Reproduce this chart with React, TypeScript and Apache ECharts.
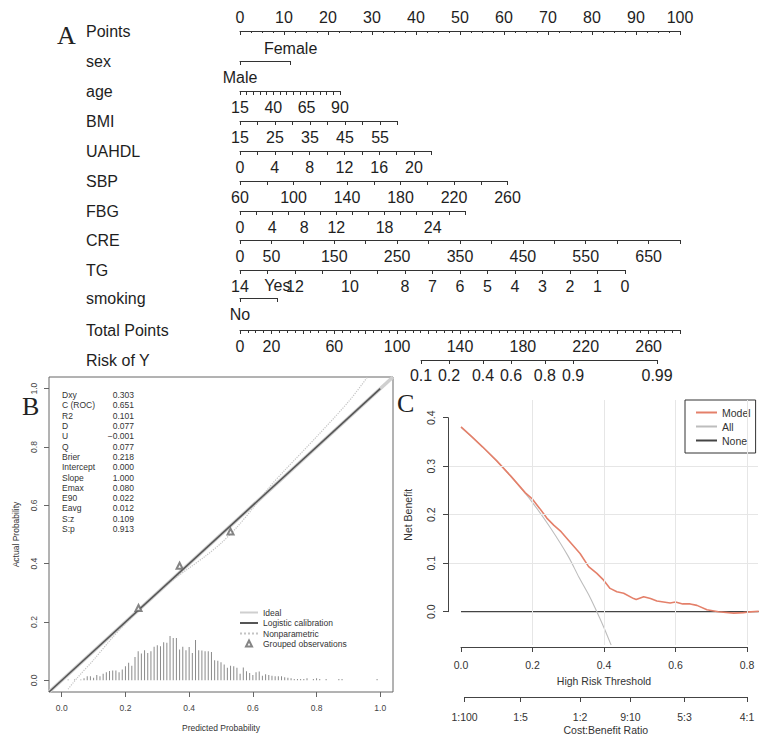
import React, { useEffect, useRef } from "react";
import * as echarts from "echarts";

const FONT = "'Liberation Sans', Arial, Helvetica, sans-serif";
const SERIF = "'Liberation Serif', 'Times New Roman', serif";

// ================= Panel A : nomogram =================
const nomoRowNames = ["Points", "sex", "age", "BMI", "UAHDL", "SBP", "FBG", "CRE", "TG", "smoking", "Total Points", "Risk of Y"];
const pointsRange = [0, 100];
const pointsLabelStep = 10;

const sexLevels = ["Male", "Female"];
const sexPoints = [0, 11.5];

const ageTicks = [15, 20, 25, 30, 35, 40, 45, 50, 55, 60, 65, 70, 75, 80, 85, 90];
const ageLabels = [15, 40, 65, 90];
const agePointsMax = 22.7;

const bmiTicks = [15, 20, 25, 30, 35, 40, 45, 50, 55, 60];
const bmiLabels = [15, 25, 35, 45, 55];
const bmiPointsMax = 35.8;

const uahdlTicks = [0, 2, 4, 6, 8, 10, 12, 14, 16, 18, 20, 22];
const uahdlLabels = [0, 4, 8, 12, 16, 20];
const uahdlPointsMax = 43.5;

const sbpTicks = [60, 80, 100, 120, 140, 160, 180, 200, 220, 240, 260];
const sbpLabels = [60, 100, 140, 180, 220, 260];
const sbpPointsMax = 60.8;

const fbgTicks = [0, 2, 4, 6, 8, 10, 12, 14, 16, 18, 20, 22, 24, 26, 28];
const fbgLabels = [0, 4, 8, 12, 18, 24];
const fbgPointsMax = 51.1;

const creTicks = [0, 50, 100, 150, 200, 250, 300, 350, 400, 450, 500, 550, 600, 650, 700];
const creLabels = [0, 50, 150, 250, 350, 450, 550, 650];
const crePointsMax = 100;

const tgTicks = [0, 1, 2, 3, 4, 5, 6, 7, 8, 9, 10, 11, 12, 13, 14];
const tgLabels = [14, 12, 10, 8, 7, 6, 5, 4, 3, 2, 1, 0];
const tgPointsMax = 87.5; // reversed scale: TG = 0 scores most

const smokingLevels = ["No", "Yes"];
const smokingPoints = [0, 8.5];

const totalPointsRange = [0, 280];
const totalPointsLabels = [0, 20, 60, 100, 140, 180, 220, 260];

const riskLabels = ["0.1", "0.2", "0.4", "0.6", "0.8", "0.9", "0.99"];
const riskAtTotalPoints = [115.2, 133, 154.7, 172.5, 194, 212, 265.4];

// ================= Panel B : calibration =================
const statNames = ["Dxy", "C (ROC)", "R2", "D", "U", "Q", "Brier", "Intercept", "Slope", "Emax", "E90", "Eavg", "S:z", "S:p"];
const statValues = ["0.303", "0.651", "0.101", "0.077", "\u22120.001", "0.077", "0.218", "0.000", "1.000", "0.080", "0.022", "0.012", "0.109", "0.913"];

const calibTicks = [0, 0.2, 0.4, 0.6, 0.8, 1.0];
const idealX = [-0.04, 1.04];
const idealY = [-0.04, 1.04];
const logisticX = [-0.04, 1.0];
const logisticY = [-0.04, 1.0];
const nonparX = [0.02, 0.05, 0.1, 0.15, 0.2, 0.25, 0.3, 0.35, 0.4, 0.45, 0.5, 0.55, 0.6, 0.65, 0.7, 0.8, 0.9, 0.96];
const nonparY = [-0.03, 0.01, 0.07, 0.135, 0.195, 0.25, 0.3, 0.345, 0.385, 0.425, 0.47, 0.525, 0.59, 0.66, 0.72, 0.835, 0.955, 1.04];
const groupedX = [0.241, 0.37, 0.53];
const groupedY = [0.248, 0.393, 0.51];
const histX = [0.02, 0.04, 0.06, 0.07, 0.08, 0.09, 0.10, 0.11, 0.12, 0.13,
  0.14, 0.15, 0.16, 0.17, 0.18, 0.19, 0.20, 0.21, 0.22, 0.23,
  0.24, 0.25, 0.26, 0.27, 0.28, 0.29, 0.30, 0.31, 0.32, 0.33,
  0.34, 0.35, 0.36, 0.37, 0.38, 0.39, 0.40, 0.41, 0.42, 0.43,
  0.44, 0.45, 0.46, 0.47, 0.48, 0.49, 0.50, 0.51, 0.52, 0.53,
  0.54, 0.55, 0.56, 0.57, 0.58, 0.59, 0.60, 0.61, 0.62, 0.63,
  0.64, 0.65, 0.66, 0.67, 0.68, 0.69, 0.70, 0.71, 0.72, 0.73,
  0.74, 0.75, 0.76, 0.77, 0.79, 0.80, 0.81, 0.83, 0.87, 0.88, 0.99];
const histH = [0.003, 0.003, 0.003, 0.007, 0.014, 0.014, 0.009, 0.018, 0.014, 0.023,
  0.028, 0.032, 0.034, 0.034, 0.028, 0.037, 0.048, 0.06, 0.05, 0.08,
  0.1, 0.092, 0.103, 0.094, 0.1, 0.115, 0.12, 0.117, 0.131, 0.129,
  0.152, 0.145, 0.145, 0.106, 0.115, 0.103, 0.114, 0.094, 0.138, 0.103,
  0.102, 0.1, 0.1, 0.097, 0.069, 0.067, 0.062, 0.054, 0.043, 0.05,
  0.048, 0.043, 0.023, 0.044, 0.031, 0.025, 0.018, 0.028, 0.03, 0.016,
  0.021, 0.018, 0.016, 0.014, 0.014, 0.014, 0.011, 0.009, 0.007, 0.005,
  0.005, 0.005, 0.005, 0.007, 0.005, 0.007, 0.005, 0.005, 0.005, 0.005, 0.005];

// ================= Panel C : decision curve =================
const modelX = [0, 0.03, 0.06, 0.1, 0.14, 0.18, 0.2, 0.22, 0.24, 0.26, 0.28, 0.3, 0.333, 0.357, 0.38, 0.399, 0.417, 0.436, 0.455, 0.483, 0.49, 0.511, 0.53, 0.548, 0.585, 0.6, 0.62, 0.641, 0.66, 0.688, 0.72, 0.763, 0.79, 0.8, 0.833];
const modelY = [0.381, 0.361, 0.34, 0.311, 0.279, 0.245, 0.232, 0.213, 0.193, 0.178, 0.165, 0.148, 0.12, 0.093, 0.079, 0.065, 0.048, 0.041, 0.038, 0.027, 0.025, 0.031, 0.027, 0.022, 0.018, 0.02, 0.016, 0.016, 0.013, 0.004, 0.0, -0.003, -0.002, -0.001, 0.001];
const allX = [0, 0.05, 0.1, 0.15, 0.2, 0.25, 0.3, 0.33, 0.36, 0.38, 0.4, 0.42];
const allY = [0.38, 0.347, 0.311, 0.27, 0.225, 0.173, 0.114, 0.071, 0.031, 0.0, -0.033, -0.069];
const noneX = [0, 0.833];
const noneY = [0, 0];
const thresholdTicks = [0, 0.2, 0.4, 0.6, 0.8];
const netBenefitTicks = [0, 0.1, 0.2, 0.3, 0.4];
const cbLabels = ["1:100", "1:5", "1:2", "9:10", "5:3", "4:1"];
const cbThresholds = [0.0099, 0.1667, 0.3333, 0.4737, 0.625, 0.8];

const zip = (xs: number[], ys: number[]) => xs.map((x, i) => [x, ys[i]]);
const nearestIdx = (arr: number[], v: number) => {
  let best = 0;
  arr.forEach((a, i) => { if (Math.abs(a - v) < Math.abs(arr[best] - v)) best = i; });
  return best;
};

function buildOption() {
  const grid: any[] = [];
  const xAxis: any[] = [];
  const yAxis: any[] = [];
  const series: any[] = [];
  const graphic: any[] = [];
  const addGrid = (g: any) => { grid.push({ containLabel: false, ...g }); return grid.length - 1; };
  const addX = (a: any) => { xAxis.push(a); return xAxis.length - 1; };
  const addY = (a: any) => { yAxis.push(a); return yAxis.length - 1; };

  // ---------- A ----------
  const NX0 = 240, NW = 440;
  const ptsPx = (p: number) => NX0 + (p / 100) * NW;
  const tpPx = (tp: number) => NX0 + ((tp - totalPointsRange[0]) / (totalPointsRange[1] - totalPointsRange[0])) * NW;
  const rowY = [31, 61, 91, 121, 151, 181, 211, 240, 270, 298, 330, 360];
  const LS = { color: "#333", width: 1 };
  const NCOL = "#1e1e1e";
  const lbl = (extra: any) => ({ show: true, fontSize: 16, color: NCOL, fontFamily: FONT, margin: 8, ...extra });

  const nomoGrid = (row: number, left: number, width: number) => {
    const gi = addGrid({ left, top: rowY[row], width, height: 0 });
    addY({ gridIndex: gi, type: "value", show: false, min: 0, max: 1 });
    return gi;
  };

  nomoRowNames.forEach((name, i) => {
    graphic.push({
      type: "text", x: 86, y: rowY[i],
      style: { text: name, fontSize: 16, fontFamily: FONT, fill: NCOL, verticalAlign: "middle", textVerticalAlign: "middle" },
    });
  });

  // Points
  {
    const gi = nomoGrid(0, ptsPx(pointsRange[0]), ptsPx(pointsRange[1]) - ptsPx(pointsRange[0]));
    addX({
      gridIndex: gi, type: "value", position: "top", min: pointsRange[0], max: pointsRange[1], interval: pointsLabelStep,
      axisLine: { show: true, onZero: false, lineStyle: LS },
      axisTick: { show: true, inside: true, length: 4, lineStyle: LS },
      minorTick: { show: true, splitNumber: 4, length: 2, lineStyle: LS },
      axisLabel: lbl({ margin: 6 }),
      splitLine: { show: false }, minorSplitLine: { show: false },
    });
  }

  const factorRow = (row: number, levels: string[], pts: number[]) => {
    const gi = nomoGrid(row, ptsPx(pts[0]), ptsPx(pts[1]) - ptsPx(pts[0]));
    const fmt = (v: number) => levels[nearestIdx(pts, v)];
    addX({
      gridIndex: gi, type: "value", position: "bottom", min: pts[0], max: pts[1],
      axisLine: { show: true, onZero: false, lineStyle: LS },
      axisTick: { show: true, length: 4, customValues: pts, lineStyle: LS },
      axisLabel: lbl({ customValues: [pts[0]], formatter: fmt }),
      splitLine: { show: false },
    });
    addX({
      gridIndex: gi, type: "value", position: "top", min: pts[0], max: pts[1],
      axisLine: { show: false, onZero: false }, axisTick: { show: false },
      axisLabel: lbl({ customValues: [pts[1]], formatter: fmt, margin: 5 }),
      splitLine: { show: false },
    });
  };

  const contRow = (row: number, ticks: number[], labels: number[], pmax: number, inverse = false) => {
    const gi = nomoGrid(row, ptsPx(0), ptsPx(pmax) - ptsPx(0));
    addX({
      gridIndex: gi, type: "value", position: "bottom", inverse,
      min: Math.min(...ticks), max: Math.max(...ticks),
      axisLine: { show: true, onZero: false, lineStyle: LS },
      axisTick: { show: true, length: 4, customValues: ticks, lineStyle: LS },
      axisLabel: lbl({ customValues: labels, formatter: (v: number) => String(v) }),
      splitLine: { show: false },
    });
  };

  factorRow(1, sexLevels, sexPoints);
  contRow(2, ageTicks, ageLabels, agePointsMax);
  contRow(3, bmiTicks, bmiLabels, bmiPointsMax);
  contRow(4, uahdlTicks, uahdlLabels, uahdlPointsMax);
  contRow(5, sbpTicks, sbpLabels, sbpPointsMax);
  contRow(6, fbgTicks, fbgLabels, fbgPointsMax);
  contRow(7, creTicks, creLabels, crePointsMax);
  contRow(8, tgTicks, tgLabels, tgPointsMax, true);
  factorRow(9, smokingLevels, smokingPoints);

  // Total points
  {
    const gi = nomoGrid(10, tpPx(totalPointsRange[0]), tpPx(totalPointsRange[1]) - tpPx(totalPointsRange[0]));
    addX({
      gridIndex: gi, type: "value", position: "bottom", min: totalPointsRange[0], max: totalPointsRange[1], interval: 20,
      axisLine: { show: true, onZero: false, lineStyle: LS },
      axisTick: { show: true, length: 4, lineStyle: LS },
      minorTick: { show: true, splitNumber: 4, length: 3, lineStyle: LS },
      axisLabel: lbl({ customValues: totalPointsLabels, formatter: (v: number) => String(v) }),
      splitLine: { show: false }, minorSplitLine: { show: false },
    });
  }
  // Risk
  {
    const r0 = riskAtTotalPoints[0], r1 = riskAtTotalPoints[riskAtTotalPoints.length - 1];
    const gi = nomoGrid(11, tpPx(r0), tpPx(r1) - tpPx(r0));
    addX({
      gridIndex: gi, type: "value", position: "bottom", min: r0, max: r1,
      axisLine: { show: true, onZero: false, lineStyle: LS },
      axisTick: { show: true, length: 4, customValues: riskAtTotalPoints, lineStyle: LS },
      axisLabel: lbl({ customValues: riskAtTotalPoints, formatter: (v: number) => riskLabels[nearestIdx(riskAtTotalPoints, v)], margin: 7 }),
      splitLine: { show: false },
    });
  }

  // ---------- B ----------
  const BCOL = "#444";
  const bFont = { fontSize: 8.5, fontFamily: FONT, color: BCOL };
  const bGi = addGrid({ left: 49, top: 377, width: 344, height: 315, show: true, borderColor: "#666", borderWidth: 1, backgroundColor: "transparent" });
  const bX = addX({
    gridIndex: bGi, type: "value", min: -0.04, max: 1.04,
    axisLine: { show: false, onZero: false },
    axisTick: { show: true, length: 5, customValues: calibTicks, lineStyle: { color: "#666" } },
    axisLabel: { ...bFont, customValues: calibTicks, formatter: (v: number) => v.toFixed(1), margin: 11 },
    splitLine: { show: false },
    name: "Predicted Probability", nameLocation: "middle", nameGap: 31, nameTextStyle: { ...bFont, color: "#333" },
  });
  const bY = addY({
    gridIndex: bGi, type: "value", min: -0.04, max: 1.04,
    axisLine: { show: false, onZero: false },
    axisTick: { show: true, length: 5, customValues: calibTicks, lineStyle: { color: "#666" } },
    axisLabel: { ...bFont, customValues: calibTicks, formatter: (v: number) => v.toFixed(1), margin: 11, rotate: 90 },
    splitLine: { show: false },
    name: "Actual Probability", nameLocation: "middle", nameGap: 29, nameTextStyle: { ...bFont, color: "#333" },
  });
  series.push({
    name: "hist", type: "bar", xAxisIndex: bX, yAxisIndex: bY, data: zip(histX, histH),
    barWidth: 1, itemStyle: { color: "#8a8a8a" }, silent: true, z: 1,
  });
  series.push({
    name: "Ideal", type: "line", xAxisIndex: bX, yAxisIndex: bY, data: zip(idealX, idealY),
    symbol: "none", itemStyle: { color: "#cfcfcf" }, lineStyle: { color: "#cfcfcf", width: 3.5 }, z: 2, silent: true,
  });
  series.push({
    name: "Logistic calibration", type: "line", xAxisIndex: bX, yAxisIndex: bY, data: zip(logisticX, logisticY),
    symbol: "none", itemStyle: { color: "#555" }, lineStyle: { color: "#555", width: 1.6 }, z: 4, silent: true,
  });
  series.push({
    name: "Nonparametric", type: "line", xAxisIndex: bX, yAxisIndex: bY, data: zip(nonparX, nonparY),
    symbol: "none", smooth: 0.3, itemStyle: { color: "#c4c4c4" }, lineStyle: { color: "#c4c4c4", width: 1.2, type: "dotted" }, z: 3, silent: true,
  });
  series.push({
    name: "Grouped observations", type: "scatter", xAxisIndex: bX, yAxisIndex: bY, data: zip(groupedX, groupedY),
    symbol: "emptyTriangle", symbolSize: 6, itemStyle: { color: "#666", borderWidth: 1 }, z: 5, silent: true,
  });
  graphic.push({
    type: "text", x: 62, y: 390,
    style: { text: statNames.join("\n"), fontSize: 8.5, fontFamily: FONT, fill: "#333", lineHeight: 10.3, verticalAlign: "top", textVerticalAlign: "top" },
  });
  graphic.push({
    type: "text", x: 134, y: 390,
    style: { text: statValues.join("\n"), fontSize: 8.5, fontFamily: FONT, fill: "#333", lineHeight: 10.3, align: "right", textAlign: "right", verticalAlign: "top", textVerticalAlign: "top" },
  });

  // ---------- C ----------
  const C_LEFT = 449, C_TOP = 400, C_W = 309, C_H = 245;
  const C_XMIN = -0.0336, C_XMAX = 0.8308, C_YMIN = -0.0687, C_YMAX = 0.4365;
  const cPx = (v: number) => C_LEFT + ((v - C_XMIN) / (C_XMAX - C_XMIN)) * C_W;
  const cPy = (v: number) => C_TOP + ((C_YMAX - v) / (C_YMAX - C_YMIN)) * C_H;
  const cFont = { fontSize: 10.5, fontFamily: FONT, color: "#333" };
  const CLS = { color: "#444", width: 1 };

  const cGi = addGrid({ left: C_LEFT, top: C_TOP, width: C_W, height: C_H });
  const cX = addX({ gridIndex: cGi, type: "value", min: C_XMIN, max: C_XMAX, show: false, axisLine: { onZero: false }, splitLine: { show: false } });
  const cY = addY({ gridIndex: cGi, type: "value", min: C_YMIN, max: C_YMAX, show: false, axisLine: { onZero: false }, splitLine: { show: false } });
  series.push({
    name: "gridlines", type: "line", xAxisIndex: cX, yAxisIndex: cY, data: [], silent: true, z: 1,
    markLine: {
      silent: true, symbol: ["none", "none"], label: { show: false }, animation: false,
      lineStyle: { color: "#e6e6e6", width: 1, type: "solid" },
      data: [
        ...thresholdTicks.filter((t) => t > 0).map((t) => ({ xAxis: t })),
        ...netBenefitTicks.filter((t) => t > 0 && t < 0.4).map((t) => ({ yAxis: t })),
      ],
    },
  });
  series.push({
    name: "None", type: "line", xAxisIndex: cX, yAxisIndex: cY, data: zip(noneX, noneY),
    symbol: "none", itemStyle: { color: "#444" }, lineStyle: { color: "#444", width: 1.2 }, z: 3, silent: true,
  });
  series.push({
    name: "All", type: "line", xAxisIndex: cX, yAxisIndex: cY, data: zip(allX, allY),
    symbol: "none", smooth: 0.3, itemStyle: { color: "#bdbdbd" }, lineStyle: { color: "#bdbdbd", width: 1.1 }, z: 3, silent: true,
  });
  series.push({
    name: "Model", type: "line", xAxisIndex: cX, yAxisIndex: cY, data: zip(modelX, modelY),
    symbol: "none", itemStyle: { color: "#e4806a" }, lineStyle: { color: "#e4806a", width: 1.6 }, z: 4, silent: true,
  });

  // detached threshold axis
  {
    const gi = addGrid({ left: cPx(0), top: 647, width: cPx(0.8) - cPx(0), height: 0 });
    addY({ gridIndex: gi, type: "value", show: false, min: 0, max: 1 });
    addX({
      gridIndex: gi, type: "value", position: "bottom", min: 0, max: 0.8, interval: 0.2,
      axisLine: { show: true, onZero: false, lineStyle: CLS },
      axisTick: { show: true, length: 5, lineStyle: CLS },
      axisLabel: { ...cFont, margin: 12, formatter: (v: number) => v.toFixed(1) },
      splitLine: { show: false },
      name: "High Risk Threshold", nameLocation: "middle", nameGap: 28, nameTextStyle: cFont,
    });
  }
  // detached net benefit axis
  {
    const gi = addGrid({ left: 448, top: cPy(0.4), width: 0, height: cPy(0) - cPy(0.4) });
    addX({ gridIndex: gi, type: "value", show: false, min: 0, max: 1 });
    addY({
      gridIndex: gi, type: "value", position: "left", min: 0, max: 0.4, interval: 0.1,
      axisLine: { show: true, onZero: false, lineStyle: CLS },
      axisTick: { show: true, length: 5, lineStyle: CLS },
      axisLabel: { ...cFont, margin: 12, rotate: 90, formatter: (v: number) => v.toFixed(1) },
      splitLine: { show: false },
      name: "Net Benefit", nameLocation: "middle", nameGap: 35, nameTextStyle: cFont,
    });
  }
  // cost:benefit axis
  {
    const c0 = cbThresholds[0], c1 = cbThresholds[cbThresholds.length - 1];
    const gi = addGrid({ left: cPx(c0), top: 697, width: cPx(c1) - cPx(c0), height: 0 });
    addY({ gridIndex: gi, type: "value", show: false, min: 0, max: 1 });
    addX({
      gridIndex: gi, type: "value", position: "bottom", min: c0, max: c1,
      axisLine: { show: true, onZero: false, lineStyle: CLS },
      axisTick: { show: true, length: 5, customValues: cbThresholds, lineStyle: CLS },
      axisLabel: { ...cFont, margin: 14, customValues: cbThresholds, formatter: (v: number) => cbLabels[nearestIdx(cbThresholds, v)] },
      splitLine: { show: false },
      name: "Cost:Benefit Ratio", nameLocation: "middle", nameGap: 27, nameTextStyle: cFont,
    });
  }

  // panel letters
  graphic.push({ type: "text", x: 57, y: 35, style: { text: "A", fontSize: 26, fontFamily: SERIF, fill: "#222", verticalAlign: "middle", textVerticalAlign: "middle" } });
  graphic.push({ type: "text", x: 22, y: 406, style: { text: "B", fontSize: 26, fontFamily: SERIF, fill: "#222", verticalAlign: "middle", textVerticalAlign: "middle" } });
  graphic.push({ type: "text", x: 397, y: 403, style: { text: "C", fontSize: 26, fontFamily: SERIF, fill: "#222", verticalAlign: "middle", textVerticalAlign: "middle" } });

  const noSym = { color: "rgba(0,0,0,0)", borderColor: "rgba(0,0,0,0)", borderWidth: 0, opacity: 0 };
  const lineItem = (name: string) => ({ name, itemStyle: noSym });

  return {
    animation: false,
    backgroundColor: "#fff",
    textStyle: { fontFamily: FONT },
    grid, xAxis, yAxis, series, graphic,
    legend: [
      {
        orient: "vertical", left: 239, top: 608, padding: 0, itemGap: 1.5, itemWidth: 18, itemHeight: 8,
        textStyle: { fontSize: 8.5, fontFamily: FONT, color: "#333" },
        data: [lineItem("Ideal"), lineItem("Logistic calibration"), lineItem("Nonparametric")],
        selectedMode: false,
      },
      {
        orient: "vertical", left: 245, top: 639, padding: 0, itemWidth: 6, itemHeight: 6,
        textStyle: { fontSize: 8.5, fontFamily: FONT, color: "#333", padding: [0, 0, 0, 6] },
        itemStyle: { borderWidth: 1 },
        data: ["Grouped observations"],
        selectedMode: false,
      },
      {
        orient: "vertical", left: 685, top: 400, padding: [7, 5, 7, 10], itemGap: 3, itemWidth: 21, itemHeight: 10,
        borderColor: "#333", borderWidth: 1, backgroundColor: "#fff",
        textStyle: { fontSize: 10.5, fontFamily: FONT, color: "#333" },
        data: [lineItem("Model"), lineItem("All"), lineItem("None")],
        selectedMode: false,
      },
    ],
  };
}

export default function App() {
  const ref = useRef<HTMLDivElement>(null);
  useEffect(() => {
    document.body.style.margin = "0";
    const chart = echarts.init(ref.current!, null, { renderer: "svg" });
    chart.setOption(buildOption() as any);
    return () => chart.dispose();
  }, []);
  return <div ref={ref} style={{ width: 767, height: 742, background: "#fff" }} />;
}
